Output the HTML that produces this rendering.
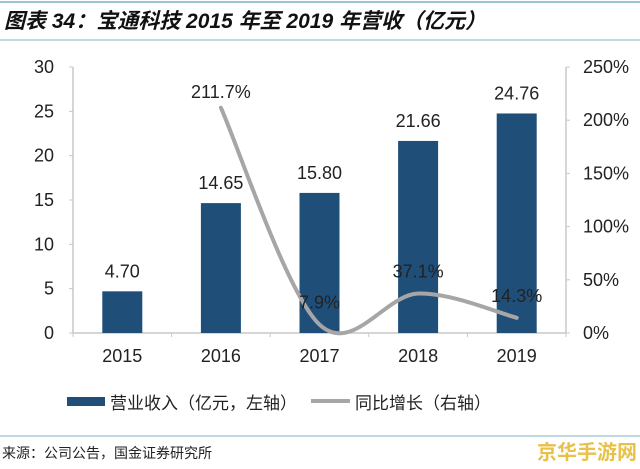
<!DOCTYPE html>
<html><head><meta charset="utf-8"><style>
body{margin:0;background:#fff;width:640px;height:464px;overflow:hidden;font-family:"Liberation Sans","Noto Sans CJK SC",sans-serif}
svg text{font-family:"Liberation Sans","Noto Sans CJK SC",sans-serif}
</style></head><body>
<svg id="c" width="640" height="464" xmlns="http://www.w3.org/2000/svg">
<line x1="0" y1="2" x2="640" y2="2" stroke="#7fb0c6" stroke-width="1.5"/>
<text x="4" y="28" font-size="21" font-weight="bold" font-style="italic" fill="#111">图表 34：宝通科技 2015 年至 2019 年营收（亿元）</text>
<line x1="0" y1="40" x2="640" y2="40" stroke="#7fb0c6" stroke-width="1"/>
<g id="axes"></g>
<g id="bars"></g>
<path id="line" fill="none" stroke="#a6a6a6" stroke-width="4" stroke-linecap="round"/>
<g id="labels"></g>
<rect x="67" y="397" width="38" height="9" fill="#1f4e79"/>
<text x="110" y="409" font-size="17" fill="#222">营业收入（亿元，左轴）</text>
<line x1="311" y1="401" x2="350" y2="401" stroke="#a6a6a6" stroke-width="4"/>
<text x="355" y="409" font-size="17" fill="#222">同比增长（右轴）</text>
<line x1="0" y1="436" x2="640" y2="436" stroke="#7fb0c6" stroke-width="1"/>
<text x="2" y="458" font-size="14" fill="#222" font-family="Noto Serif CJK SC, serif">来源：公司公告，国金证券研究所</text>
<text x="537" y="459" font-size="20" font-weight="bold" fill="#e8c14a">京华手游网</text>
</svg>
<script>
const categories=["2015","2016","2017","2018","2019"];
const revenue=[4.70,14.65,15.80,21.66,24.76];
const growth=[null,211.7,7.9,37.1,14.3];
const leftTicks=[0,5,10,15,20,25,30];
const rightTicks=[0,50,100,150,200,250];
const NS="http://www.w3.org/2000/svg";
const X0=73,X1=566,Y0=333,Y1=67;
const bw=(X1-X0)/categories.length;
const xc=i=>X0+bw*(i+0.5);
const yl=v=>Y0-(v/30)*(Y0-Y1);
const yr=v=>Y0-(v/250)*(Y0-Y1);
function mk(tag,attrs,parent,txt){const e=document.createElementNS(NS,tag);for(const k in attrs)e.setAttribute(k,attrs[k]);if(txt!=null)e.textContent=txt;document.getElementById(parent).appendChild(e);return e;}
let e=mk('line',{x1:X0,y1:Y1,x2:X0,y2:Y0,stroke:'#c8c8c8','stroke-width':1.5},'axes');


e=mk('line',{x1:X1,y1:Y1,x2:X1,y2:Y0,stroke:'#c8c8c8','stroke-width':1.5},'axes');


e=mk('line',{x1:X0,y1:Y0,x2:X1,y2:Y0,stroke:'#c8c8c8','stroke-width':1.5},'axes');


leftTicks.forEach(v=>{
 const t=mk('line',{x1:X0-4,y1:yl(v),x2:X0,y2:yl(v),stroke:'#c8c8c8'},'axes');
 
 
 const l=mk('text',{x:X0-19,y:yl(v)+6,'font-size':18,'text-anchor':'end',fill:'#222'},'axes',String(v));
 
 
});
rightTicks.forEach(v=>{
 const t=mk('line',{x1:X1,y1:yr(v),x2:X1+4,y2:yr(v),stroke:'#c8c8c8'},'axes');
 
 
 const l=mk('text',{x:583,y:yr(v)+6,'font-size':18,fill:'#222'},'axes',v+'%');
 
 
});
for(let i=0;i<=categories.length;i++){
 const t=mk('line',{x1:X0+bw*i,y1:Y0,x2:X0+bw*i,y2:Y0+4,stroke:'#c8c8c8'},'axes');
 
 
}
categories.forEach((c,i)=>{
 const l=mk('text',{x:xc(i),y:362,'font-size':18,'text-anchor':'middle',fill:'#222'},'axes',c);
 
 
 const b=mk('rect',{x:xc(i)-20,y:yl(revenue[i]),width:40,height:Y0-yl(revenue[i]),fill:'#1f4e79'},'bars');
 
 
 const v=mk('text',{x:xc(i),y:yl(revenue[i])-14,'font-size':18,'text-anchor':'middle',fill:'#222'},'labels',revenue[i].toFixed(2));
 
 
});
const pts=[];growth.forEach((g,i)=>{if(g!=null)pts.push([xc(i),yr(g)]);});
let d='M'+pts[0][0]+','+pts[0][1];
for(let i=0;i<pts.length-1;i++){
 const p0=pts[i-1]||pts[i],p1=pts[i],p2=pts[i+1],p3=pts[i+2]||p2;
 const t=1/6;
 d+=' C'+(p1[0]+(p2[0]-p0[0])*t)+','+(p1[1]+(p2[1]-p0[1])*t)+' '+(p2[0]-(p3[0]-p1[0])*t)+','+(p2[1]-(p3[1]-p1[1])*t)+' '+p2[0]+','+p2[1];
}
document.getElementById('line').setAttribute('d',d);
growth.forEach((g,i)=>{if(g==null)return;
 const l=mk('text',{x:xc(i),y:yr(g)+(i===1?-10:-16),'font-size':18,'text-anchor':'middle',fill:'#222'},'labels',g.toFixed(1)+'%');
 
 
});
</script>
</body></html>
